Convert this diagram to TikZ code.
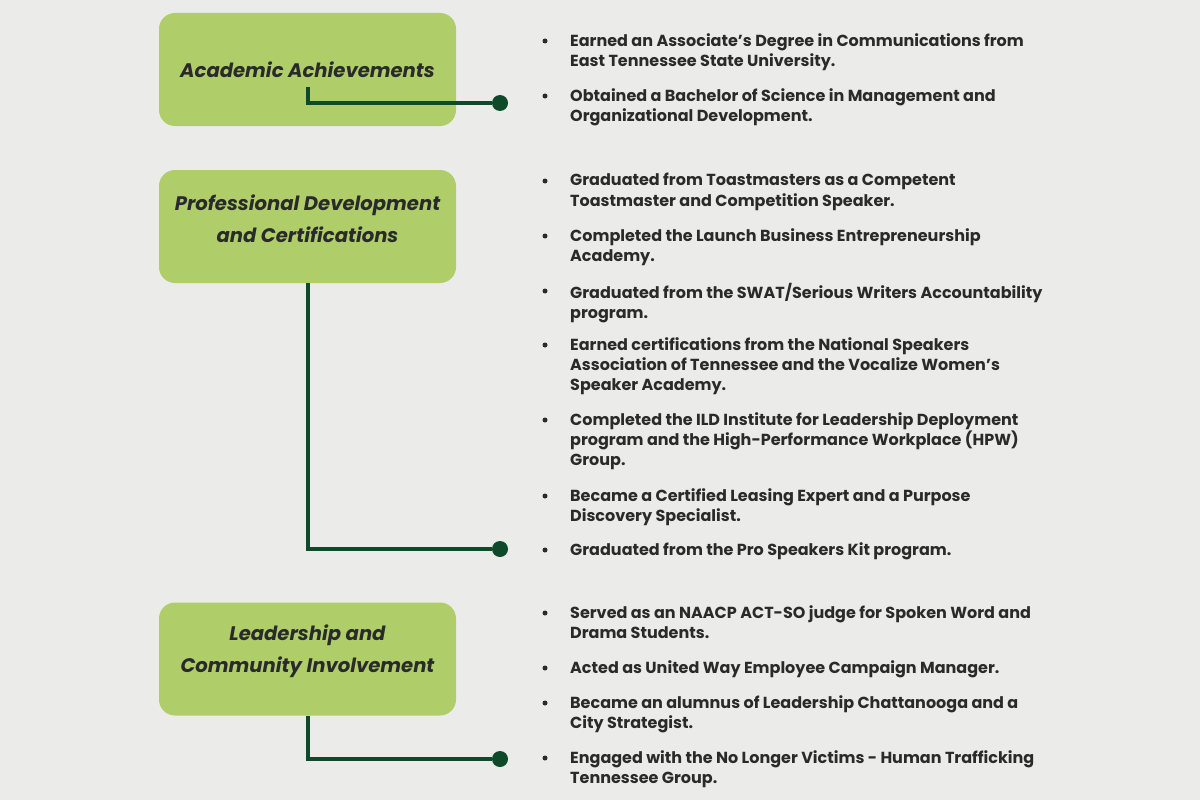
\documentclass[tikz,border=0pt]{standalone}
\usepackage{fontspec}
\setmainfont{Poppins}
\usetikzlibrary{positioning}
\definecolor{bg}{HTML}{EBECEA}
\definecolor{leaf}{HTML}{AFCE6A}
\definecolor{pine}{HTML}{0E4A2A}
\definecolor{ink}{HTML}{2A2A2A}
\begin{document}
\begin{tikzpicture}[x=1pt,y=-1pt]
	\tikzset{box/.style={rounded corners=16pt,fill=leaf,minimum width=297pt,minimum height=113pt,inner sep=0pt},
	         title/.style={font=\fontsize{19.6}{32}\selectfont\bfseries\itshape,text=ink,align=center},
	         item/.style={font=\fontsize{16}{20.4}\selectfont\bfseries,text=ink,align=left,anchor=north west,inner sep=0pt,
	                      execute at begin node={\rule{0pt}{13pt}}},
	         bul/.style={circle,fill=ink,inner sep=0pt,minimum size=5pt},
	         knob/.style={circle,fill=pine,inner sep=0pt,minimum size=16pt},
	         link/.style={pine,line width=4pt}}
	\fill[bg] (0,0) rectangle (1200,800);
	% boxes
	\node[box] (b1) at (307.5,69.5) {};
	\node[box] (b2) at (307.5,226.5) {};
	\node[box] (b3) at (307.5,659) {};
	\node[title] (t1) at (307.5,70) {Academic Achievements};
	\node[title] (t2) at (307.5,219) {Professional Development\\and Certifications};
	\node[title] (t3) at (307.5,651) {Leadership and\\Community Involvement};
	% connectors
	\coordinate (a1) at (307.5,87);
	\node[knob] (k1) at (500,103) {};
	\node[knob] (k2) at (500,549) {};
	\node[knob] (k3) at (500,759) {};
	\draw[link] (a1) |- (k1);
	\draw[link] (b2.south) |- (k2);
	\draw[link] (b3.south) |- (k3);
	% bullets
	\foreach \y/\n in {41/1,96/2,181/3,236/4,291/5,345/6,420/7,496/8,550/9,613/10,668/11,703/12,758/13}
		\node[bul] (d\n) at (545,\y) {};
	% items
	\node[item] (i1) at (570,33) {Earned an Associate’s Degree in Communications from\\East Tennessee State University.};
	\node[item] (i2) at (570,88) {Obtained a Bachelor of Science in Management and\\Organizational Development.};
	\node[item] (i3) at (570,173) {Graduated from Toastmasters as a Competent\\Toastmaster and Competition Speaker.};
	\node[item] (i4) at (570,228) {Completed the Launch Business Entrepreneurship\\Academy.};
	\node[item] (i5) at (570,283) {Graduated from the SWAT/Serious Writers Accountability\\program.};
	\node[item] (i6) at (570,337) {Earned certifications from the National Speakers\\Association of Tennessee and the Vocalize Women’s\\Speaker Academy.};
	\node[item] (i7) at (570,412) {Completed the ILD Institute for Leadership Deployment\\program and the High-Performance Workplace (HPW)\\Group.};
	\node[item] (i8) at (570,488) {Became a Certified Leasing Expert and a Purpose\\Discovery Specialist.};
	\node[item] (i9) at (570,542) {Graduated from the Pro Speakers Kit program.};
	\node[item] (i10) at (570,605) {Served as an NAACP ACT-SO judge for Spoken Word and\\Drama Students.};
	\node[item] (i11) at (570,660) {Acted as United Way Employee Campaign Manager.};
	\node[item] (i12) at (570,695) {Became an alumnus of Leadership Chattanooga and a\\City Strategist.};
	\node[item] (i13) at (570,750) {Engaged with the No Longer Victims - Human Trafficking\\Tennessee Group.};
\end{tikzpicture}
\end{document}
